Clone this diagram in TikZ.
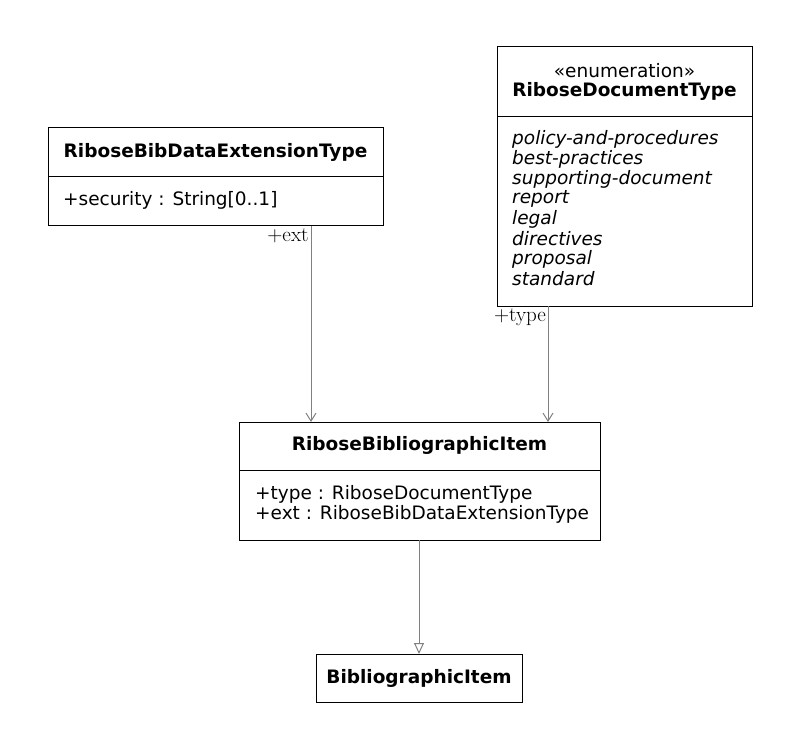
\documentclass[tikz,border=0pt]{standalone}
\usepackage{fontspec}
\setmainfont{DejaVu Sans}
\newfontfamily\lmr{Latin Modern Roman}
\usetikzlibrary{arrows.meta}
\begin{document}
\begin{tikzpicture}[x=1pt,y=-1pt,
 box/.style={draw,line width=1pt},
 t/.style={font=\fontsize{18.5}{20}\selectfont\bfseries,anchor=center,inner sep=0pt},
 a/.style={font=\fontsize{18.5}{20}\selectfont,anchor=west,inner sep=0pt},
 ai/.style={font=\fontsize{18.5}{20}\selectfont\itshape,anchor=west,inner sep=0pt},
 lab/.style={font=\lmr\fontsize{21}{23}\selectfont,inner sep=0pt},
 conn/.style={draw=gray,line width=1pt}]
\useasboundingbox (0,0) rectangle (800,751);
% Ext
\draw[box] (48,128) rectangle (383,226); \draw[line width=1pt] (48,177)--(383,177);
\node[t] (extt) at (215.5,152) {RiboseBibDataExtensionType};
\node[a] at (63,200) {+security : String[0..1]};
% Enum
\draw[box] (497,47) rectangle (752,306); \draw[line width=1pt] (497,117)--(752,117);
\node[font=\fontsize{18.5}{20}\selectfont,inner sep=0pt] at (624.5,71) {«enumeration»};
\node[t] at (624.5,91) {RiboseDocumentType};
\foreach \s [count=\i from 0] in {policy-and-procedures,best-practices,supporting-document,report,legal,directives,proposal,standard}
  \node[ai] at (512,{139+20*\i}) {\s};
% RBI
\draw[box] (239,422) rectangle (600,540); \draw[line width=1pt] (239,470)--(600,470);
\node[t] at (419.5,445) {RiboseBibliographicItem};
\node[a] at (255,494) {+type : RiboseDocumentType};
\node[a] at (255,514) {+ext : RiboseBibDataExtensionType};
% BI
\draw[box] (316,654) rectangle (522,702);
\node[t] at (419,678) {BibliographicItem};
% connectors
\coordinate (e1) at (311,226); \coordinate (e2) at (311,422);
\coordinate (t1) at (548,306); \coordinate (t2) at (548,422);
\coordinate (g1) at (419,540); \coordinate (g2) at (419,654);
\draw[conn,-{Straight Barb[length=8pt,width=10pt]}] (e1)--(e2);
\draw[conn,-{Straight Barb[length=8pt,width=10pt]}] (t1)--(t2);
\draw[conn,-{Triangle[open,fill=white,length=11pt,width=10pt]}] (g1)--(g2);
\node[lab] at (288,236) {+ext};
\node[lab] at (520,317) {+type};
\end{tikzpicture}
\end{document}
